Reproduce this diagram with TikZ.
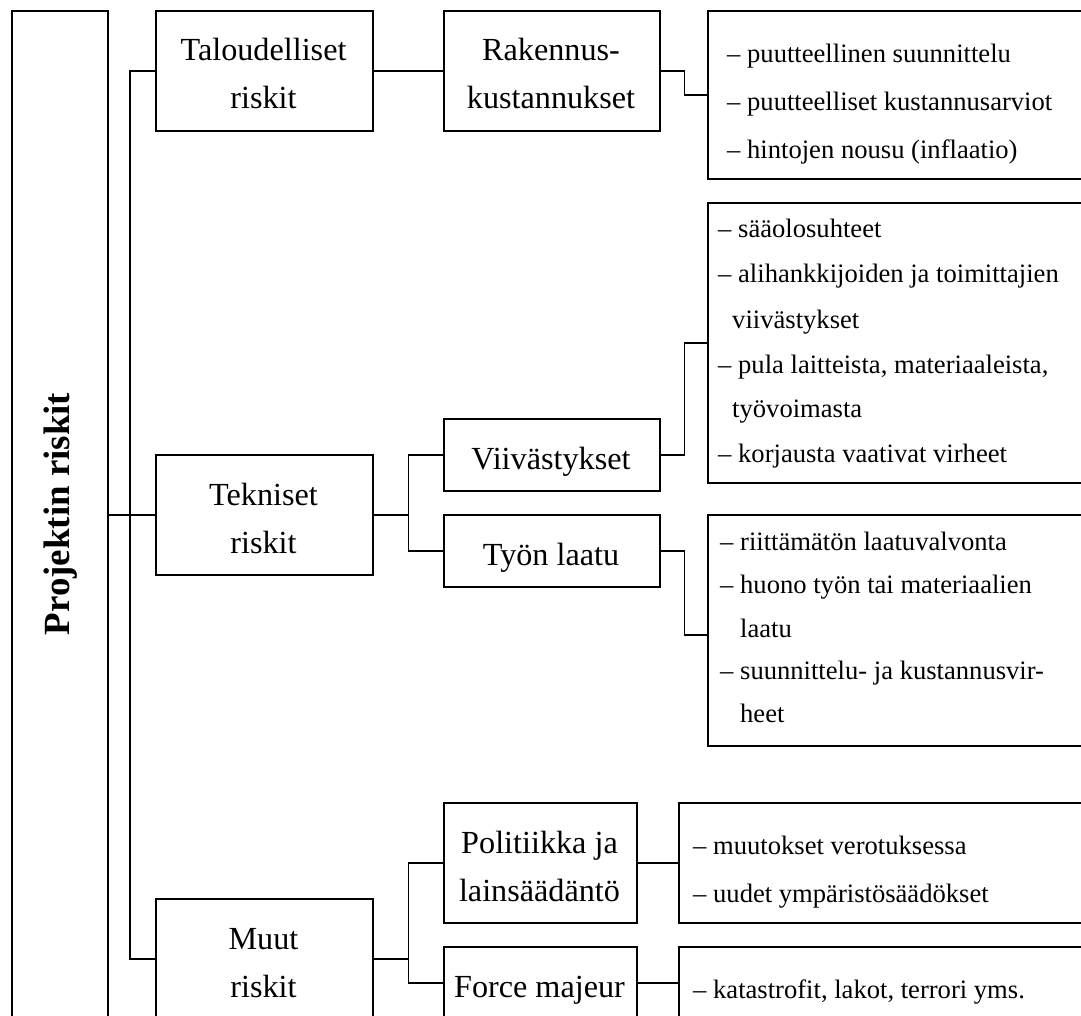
\documentclass[tikz,border=0pt]{standalone}
\usepackage{fontspec}
\setmainfont{Liberation Serif}
\begin{document}
\begin{tikzpicture}[x=1pt,y=-1pt,
  box/.style={draw, line width=1.6pt, rectangle, inner sep=0pt, anchor=north west},
  conn/.style={line width=1.6pt},
  head/.style={font=\fontsize{32.2}{48}\selectfont, anchor=base, inner sep=0pt},
  item/.style={font=\fontsize{26.6}{44}\selectfont, anchor=base west, inner sep=0pt}]
\useasboundingbox (0,0) rectangle (1081,1016);
\clip (0,0) rectangle (1081,1016);

% boxes
\node[box, minimum width=96pt,  minimum height=1008pt] (root) at (11,10) {};
\node[box, minimum width=217pt, minimum height=120pt]  (tal)  at (155,10) {};
\node[box, minimum width=216pt, minimum height=120pt]  (rak)  at (443,10) {};
\node[box, minimum width=400pt, minimum height=168pt]  (L1)   at (707,10) {};
\node[box, minimum width=217pt, minimum height=120pt]  (tek)  at (155,454) {};
\node[box, minimum width=216pt, minimum height=72pt]   (vii)  at (443,418) {};
\node[box, minimum width=216pt, minimum height=72pt]   (tyo)  at (443,514) {};
\node[box, minimum width=400pt, minimum height=280pt]  (L2)   at (707,202) {};
\node[box, minimum width=400pt, minimum height=231pt]  (L3)   at (707,514) {};
\node[box, minimum width=217pt, minimum height=120pt]  (muut) at (155,898) {};
\node[box, minimum width=193pt, minimum height=120pt]  (pol)  at (443,802) {};
\node[box, minimum width=193pt, minimum height=72pt]   (fm)   at (443,946) {};
\node[box, minimum width=420pt, minimum height=120pt]  (L4)   at (678,802) {};
\node[box, minimum width=420pt, minimum height=72pt]   (L5)   at (678,946) {};

% connectors
\draw[conn] (root.east) -- (tek.west);
\draw[conn] (tal.west) -- ++(-25,0) |- (muut.west);
\draw[conn] (tal.east) -- (rak.west);
\draw[conn] (rak.east) -- ++(24,0) |- (L1.west);
\draw[conn] (tek.east) -- ++(35,0) coordinate (tkfork);
\draw[conn] (vii.west) -| (tkfork) |- (tyo.west);
\draw[conn] (vii.east) -- ++(24,0) |- (L2.west);
\draw[conn] (tyo.east) -- ++(24,0) |- ([yshift=-4.5pt]L3.west);
\draw[conn] (muut.east) -- ++(35,0) coordinate (mfork);
\draw[conn] (pol.west) -| (mfork) |- (fm.west);
\draw[conn] (pol.east) -- (L4.west);
\draw[conn] (fm.east) -- (L5.west);

% titles
\node[font=\fontsize{36.9}{44}\selectfont\bfseries, rotate=90, inner sep=0pt] (root-t) at (61,514) {Projektin riskit};
\node[head] (tal-a) at (263.5,61) {Taloudelliset};
\node[head] (tal-b) at (263.5,109) {riskit};
\node[head] (rak-a) at (551,61) {Rakennus-};
\node[head] (rak-b) at (551,109) {kustannukset};
\node[head] (tek-a) at (263.5,505) {Tekniset};
\node[head] (tek-b) at (263.5,553) {riskit};
\node[head] (vii-a) at (551,469) {Viivästykset};
\node[head] (tyo-a) at (551,565) {Työn laatu};
\node[head] (muut-a) at (263.5,949) {Muut};
\node[head] (muut-b) at (263.5,997) {riskit};
\node[head] (pol-a) at (539.5,853) {Politiikka ja};
\node[head] (pol-b) at (539.5,901) {lainsäädäntö};
\node[head] (fm-a) at (539.5,997) {Force majeur};

% item lists
\node[item] (l1a) at (727,63)  {– puutteellinen suunnittelu};
\node[item] (l1b) at (727,111) {– puutteelliset kustannusarviot};
\node[item] (l1c) at (727,159) {– hintojen nousu (inflaatio)};

\node[item] (l2a) at (718,238) {– sääolosuhteet};
\node[item] (l2b) at (718,283) {– alihankkijoiden ja toimittajien};
\node[item] (l2c) at (732,328) {viivästykset};
\node[item] (l2d) at (718,373) {– pula laitteista, materiaaleista,};
\node[item] (l2e) at (732,417) {työvoimasta};
\node[item] (l2f) at (718,462) {– korjausta vaativat virheet};

\node[item] (l3a) at (720,550) {– riittämätön laatuvalvonta};
\node[item] (l3b) at (720,593) {– huono työn tai materiaalien};
\node[item] (l3c) at (720,637) {\phantom{– }laatu};
\node[item] (l3d) at (720,679) {– suunnittelu- ja kustannusvir-};
\node[item] (l3e) at (720,722) {\phantom{– }heet};

\node[item] (l4a) at (693,854) {– muutokset verotuksessa};
\node[item] (l4b) at (693,902) {– uudet ympäristösäädökset};
\node[item] (l5a) at (693,998) {– katastrofit, lakot, terrori yms.};
\end{tikzpicture}
\end{document}
